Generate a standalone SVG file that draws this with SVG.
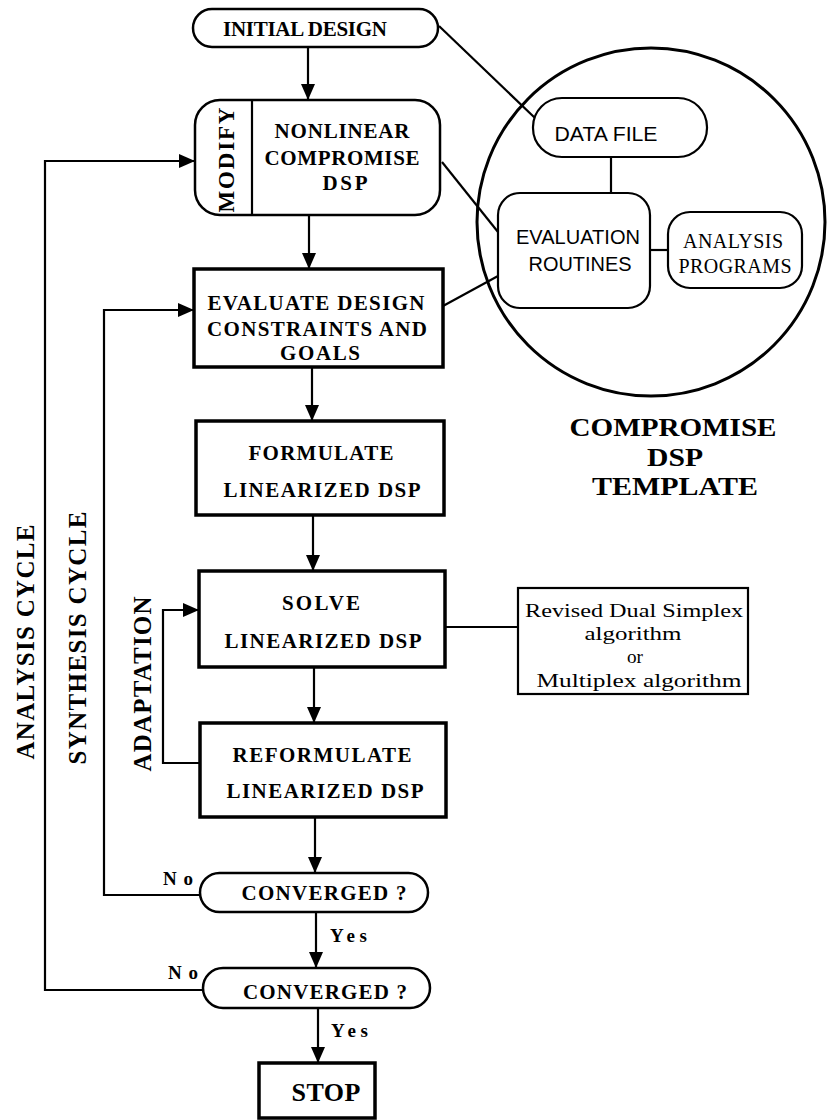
<svg xmlns="http://www.w3.org/2000/svg" width="827" height="1120" viewBox="0 0 827 1120">
  <style>
    .box { fill: #fff; stroke: #000; stroke-width: 3.5; }
    .pill { fill: #fff; stroke: #000; stroke-width: 2.5; }
    .tpl { fill: #fff; stroke: #000; stroke-width: 2.2; }
    .line { fill: none; stroke: #000; stroke-width: 2.2; }
    .arrow { fill: none; stroke: #000; stroke-width: 2.2; marker-end: url(#head); }
    .t { font-family: "Liberation Serif", "Times New Roman", serif; font-weight: bold; font-size: 21px; fill: #000; text-anchor: middle; }
    .side { font-family: "Liberation Serif", "Times New Roman", serif; font-weight: bold; font-size: 25px; fill: #000; text-anchor: middle; }
    .lbl { font-family: "Liberation Serif", "Times New Roman", serif; font-weight: bold; font-size: 19px; fill: #000; }
    .sans { font-family: "Liberation Sans", Arial, sans-serif; font-size: 20px; fill: #000; text-anchor: middle; }
    .serif { font-family: "Liberation Serif", "Times New Roman", serif; font-size: 20px; fill: #000; text-anchor: middle; }
    .note { font-family: "Liberation Serif", "Times New Roman", serif; font-size: 19.5px; fill: #000; text-anchor: middle; }
    .big { font-family: "Liberation Serif", "Times New Roman", serif; font-weight: bold; font-size: 26px; fill: #000; text-anchor: middle; }
  </style>
  <defs>
    <marker id="head" viewBox="0 0 16 14" markerWidth="16" markerHeight="14" refX="16" refY="7" orient="auto" markerUnits="userSpaceOnUse">
      <path d="M0,0 L16,7 L0,14 Z" fill="#000"/>
    </marker>
  </defs>

  <!-- template circle -->
  <circle id="template-circle" cx="651" cy="222" r="174" fill="none" stroke="#000" stroke-width="3"/>

  <!-- connectors -->
  <g id="connectors">
    <path class="arrow" d="M308,47 L308,100"/>
    <path class="arrow" d="M309,215 L309,269"/>
    <path class="arrow" d="M312,367 L312,421"/>
    <path class="arrow" d="M313,515 L313,571"/>
    <path class="arrow" d="M314,667 L314,723"/>
    <path class="arrow" d="M315,817 L315,873"/>
    <path class="arrow" d="M316,912 L316,968"/>
    <path class="arrow" d="M318,1008 L318,1063"/>
    <!-- analysis cycle -->
    <path class="arrow" d="M203,990 L45,990 L45,161 L195,161"/>
    <!-- synthesis cycle -->
    <path class="arrow" d="M200,895 L104,895 L104,310 L194,310"/>
    <!-- adaptation -->
    <path class="arrow" d="M200,763 L163,763 L163,610 L199,610"/>
    <!-- links into the template -->
    <path class="line" d="M439,26 L535,118"/>
    <path class="line" d="M442,162 L498,232"/>
    <path class="line" d="M443,306 L498,276"/>
    <path class="line" d="M611,157 L611,193"/>
    <path class="line" d="M650,250 L668,250"/>
    <!-- solver note -->
    <path class="line" d="M445,627 L518,627"/>
  </g>

  <g id="initial-design">
    <rect class="pill" x="193" y="9" width="245" height="38" rx="19"/>
    <text class="t" x="305" y="36" textLength="164" lengthAdjust="spacing">INITIAL DESIGN</text>
  </g>

  <g id="nonlinear-dsp">
    <rect class="pill" x="195" y="100" width="245" height="115" rx="25"/>
    <line class="line" x1="252" y1="100" x2="252" y2="215"/>
    <text class="side" style="font-size:23px" transform="translate(234,160) rotate(-90)" textLength="105" lengthAdjust="spacing">MODIFY</text>
    <text class="t" x="342" y="138" textLength="135" lengthAdjust="spacing">NONLINEAR</text>
    <text class="t" x="342" y="165" textLength="155" lengthAdjust="spacing">COMPROMISE</text>
    <text class="t" x="345" y="190" textLength="45" lengthAdjust="spacing">DSP</text>
  </g>

  <g id="evaluate">
    <rect class="box" x="194" y="269" width="249" height="98"/>
    <text class="t" x="316" y="310" textLength="217" lengthAdjust="spacing">EVALUATE DESIGN</text>
    <text class="t" x="317" y="336" textLength="220" lengthAdjust="spacing">CONSTRAINTS AND</text>
    <text class="t" x="320" y="360" textLength="80" lengthAdjust="spacing">GOALS</text>
  </g>

  <g id="formulate">
    <rect class="box" x="196" y="421" width="248" height="94"/>
    <text class="t" x="321" y="460" textLength="145" lengthAdjust="spacing">FORMULATE</text>
    <text class="t" x="322" y="497" textLength="197" lengthAdjust="spacing">LINEARIZED DSP</text>
  </g>

  <g id="solve">
    <rect class="box" x="199" y="571" width="246" height="96"/>
    <text class="t" x="321" y="610" textLength="78" lengthAdjust="spacing">SOLVE</text>
    <text class="t" x="323" y="648" textLength="197" lengthAdjust="spacing">LINEARIZED DSP</text>
  </g>

  <g id="reformulate">
    <rect class="box" x="200" y="723" width="246" height="94"/>
    <text class="t" x="322" y="762" textLength="179" lengthAdjust="spacing">REFORMULATE</text>
    <text class="t" x="325" y="798" textLength="197" lengthAdjust="spacing">LINEARIZED DSP</text>
  </g>

  <g id="converged-synthesis">
    <rect class="pill" x="200" y="873" width="228" height="39" rx="19.5"/>
    <text class="t" x="324" y="900" textLength="165" lengthAdjust="spacing">CONVERGED ?</text>
    <text class="lbl" x="163" y="885" textLength="30" lengthAdjust="spacing">No</text>
    <text class="lbl" x="330" y="942" textLength="37" lengthAdjust="spacing">Yes</text>
  </g>

  <g id="converged-analysis">
    <rect class="pill" x="203" y="968" width="227" height="40" rx="20"/>
    <text class="t" x="325" y="999" textLength="164" lengthAdjust="spacing">CONVERGED ?</text>
    <text class="lbl" x="168" y="979" textLength="30" lengthAdjust="spacing">No</text>
    <text class="lbl" x="331" y="1037" textLength="37" lengthAdjust="spacing">Yes</text>
  </g>

  <g id="stop">
    <rect class="box" x="259" y="1063" width="116" height="55"/>
    <text class="t" style="font-size:26px" x="326" y="1101" textLength="69" lengthAdjust="spacing">STOP</text>
  </g>

  <g id="cycle-labels">
    <text class="side" transform="translate(34,642) rotate(-90)" textLength="235" lengthAdjust="spacing">ANALYSIS CYCLE</text>
    <text class="side" transform="translate(86,638) rotate(-90)" textLength="253" lengthAdjust="spacing">SYNTHESIS CYCLE</text>
    <text class="side" transform="translate(151,684) rotate(-90)" textLength="175" lengthAdjust="spacing">ADAPTATION</text>
  </g>

  <g id="data-file">
    <rect class="tpl" x="533" y="98" width="174" height="59" rx="29"/>
    <text class="sans" x="606" y="141" textLength="103" lengthAdjust="spacingAndGlyphs">DATA FILE</text>
  </g>

  <g id="evaluation-routines">
    <rect class="tpl" x="498" y="193" width="152" height="115" rx="22"/>
    <text class="sans" x="578" y="244" textLength="124" lengthAdjust="spacingAndGlyphs">EVALUATION</text>
    <text class="sans" x="580" y="271" textLength="103" lengthAdjust="spacingAndGlyphs">ROUTINES</text>
  </g>

  <g id="analysis-programs">
    <rect class="tpl" x="668" y="212" width="134" height="76" rx="22"/>
    <text class="serif" x="733" y="248" textLength="100" lengthAdjust="spacing">ANALYSIS</text>
    <text class="serif" x="735" y="273" textLength="113" lengthAdjust="spacing">PROGRAMS</text>
  </g>

  <g id="template-title">
    <text class="big" x="673" y="436" textLength="207" lengthAdjust="spacingAndGlyphs">COMPROMISE</text>
    <text class="big" x="675" y="466" textLength="56" lengthAdjust="spacingAndGlyphs">DSP</text>
    <text class="big" x="675" y="495" textLength="166" lengthAdjust="spacingAndGlyphs">TEMPLATE</text>
  </g>

  <g id="solver-note">
    <rect class="tpl" x="518" y="588" width="230" height="106"/>
    <text class="note" x="634" y="617" textLength="218" lengthAdjust="spacingAndGlyphs">Revised Dual Simplex</text>
    <text class="note" x="633" y="640" textLength="97" lengthAdjust="spacingAndGlyphs">algorithm</text>
    <text class="note" x="635" y="663" textLength="16" lengthAdjust="spacingAndGlyphs">or</text>
    <text class="note" x="639" y="687" textLength="205" lengthAdjust="spacingAndGlyphs">Multiplex algorithm</text>
  </g>
</svg>
